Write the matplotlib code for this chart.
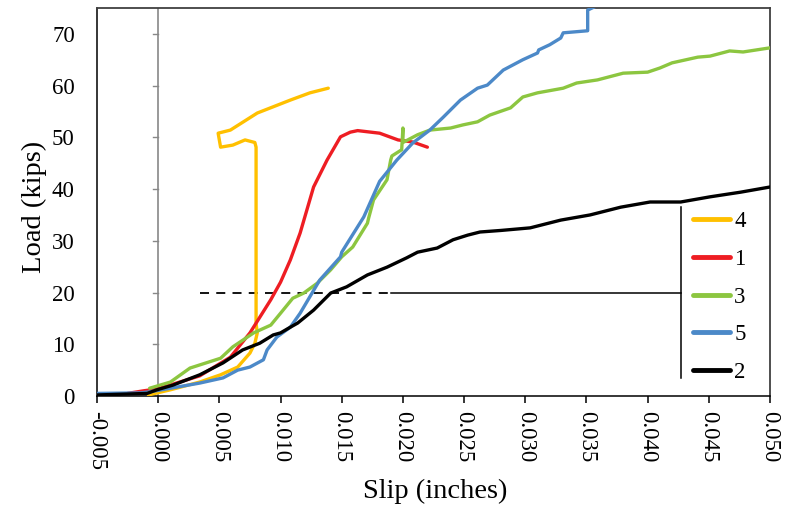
import matplotlib.pyplot as plt

plt.rcParams['font.family'] = ['Liberation Serif', 'DejaVu Serif']

# slip (in) / load (kips)
slip_4 = [-0.0008, 0.0010, 0.0034, 0.0051, 0.0065, 0.0075, 0.0079, 0.0081, 0.0080, 0.0080,
          0.0079, 0.0071, 0.0061, 0.0051, 0.0049, 0.0059, 0.0081, 0.0108, 0.0124, 0.0139]
load_4 = [0.2, 1.2, 2.7, 4.1, 5.6, 8.3, 10.2, 12.2, 14.0, 48.1,
          49.0, 49.5, 48.5, 48.1, 50.8, 51.4, 54.7, 57.2, 58.6, 59.5]

slip_1 = [-0.0025, -0.0012, 0.0, 0.0034, 0.0059, 0.0075, 0.0092, 0.0100, 0.0108, 0.0116,
          0.0127, 0.0138, 0.0149, 0.0157, 0.0163, 0.0181, 0.0196, 0.0208, 0.0220]
load_1 = [0.5, 1.0, 1.4, 3.9, 7.5, 12.2, 18.6, 22.0, 26.3, 31.5,
          40.4, 45.6, 50.1, 51.0, 51.3, 50.8, 49.5, 49.1, 48.1]

slip_3 = [-0.0007, 0.0010, 0.0026, 0.0051, 0.0061, 0.0078, 0.0092, 0.0100, 0.0110, 0.0119,
          0.0130, 0.0141, 0.0150, 0.0159, 0.0171, 0.0172, 0.0176, 0.0187, 0.0190, 0.0191,
          0.0199, 0.0200, 0.0200, 0.0212, 0.0222, 0.0239, 0.0249, 0.0261, 0.0271, 0.0288,
          0.0298, 0.0310, 0.0331, 0.0342, 0.0359, 0.0380, 0.0400, 0.0410, 0.0420, 0.0441,
          0.0451, 0.0467, 0.0478, 0.0500]
load_3 = [1.5, 2.7, 5.4, 7.3, 9.5, 12.2, 13.7, 16.0, 18.9, 19.9,
          21.8, 24.4, 26.9, 28.8, 33.4, 34.4, 37.9, 41.8, 45.6, 46.4,
          47.6, 51.8, 49.0, 50.5, 51.4, 51.8, 52.4, 53.0, 54.3, 55.7,
          57.8, 58.6, 59.5, 60.5, 61.1, 62.4, 62.6, 63.4, 64.4, 65.5,
          65.7, 66.7, 66.5, 67.3]

slip_5 = [-0.0050, -0.0015, -0.0007, 0.0010, 0.0034, 0.0053, 0.0065, 0.0075, 0.0086, 0.0089,
          0.0097, 0.0108, 0.0116, 0.0132, 0.0149, 0.0150, 0.0168, 0.0181, 0.0195, 0.0208,
          0.0222, 0.0233, 0.0247, 0.0261, 0.0269, 0.0282, 0.0298, 0.0310, 0.0311, 0.0320,
          0.0329, 0.0331, 0.0351, 0.0351, 0.0359]
load_5 = [0.5, 0.6, 0.8, 1.5, 2.5, 3.5, 5.0, 5.6, 7.0, 8.9,
          11.4, 13.3, 16.0, 22.4, 26.9, 27.8, 34.6, 41.5, 45.6, 48.9,
          51.4, 53.9, 57.2, 59.5, 60.1, 63.0, 65.0, 66.3, 66.9, 67.9,
          69.2, 70.2, 70.6, 74.6, 75.5]

slip_2 = [-0.0050, -0.0009, -0.0001, 0.0012, 0.0034, 0.0053, 0.0069, 0.0083, 0.0094, 0.0100,
          0.0108, 0.0114, 0.0127, 0.0141, 0.0154, 0.0171, 0.0187, 0.0203, 0.0212, 0.0228,
          0.0241, 0.0253, 0.0263, 0.0280, 0.0304, 0.0329, 0.0353, 0.0378, 0.0402, 0.0427,
          0.0451, 0.0476, 0.0500]
load_2 = [0.2, 0.5, 1.2, 2.1, 4.1, 6.4, 8.9, 10.2, 11.8, 12.2,
          13.3, 14.1, 16.6, 19.9, 21.1, 23.4, 24.9, 26.7, 27.8, 28.6,
          30.2, 31.1, 31.7, 32.0, 32.5, 34.0, 35.0, 36.5, 37.5, 37.5,
          38.5, 39.4, 40.4]

# reference lines drawn on the chart
dash_x = [0.0034, 0.0190]
solid_x = [0.0190, 0.0427]
ref_load = 20
bracket_x = 0.0427
bracket_y = [3.5, 36.5]

series = [('4', slip_4, load_4, '#FFC000'),
          ('1', slip_1, load_1, '#EE1D23'),
          ('3', slip_3, load_3, '#8CC640'),
          ('5', slip_5, load_5, '#4C89C8'),
          ('2', slip_2, load_2, '#000000')]

fig = plt.figure(figsize=(7.93, 5.09), dpi=100)
ax = fig.add_axes([97/793, 1-396/509, 673/793, 388/509])

ax.axvline(0, color='#888888', lw=1.2, zorder=1)
for yt in range(0, 80, 10):
    ax.plot([-0.0004, 0], [yt, yt], color='#888888', lw=1.0, zorder=1)

for name, x, y, c in series:
    ax.plot(x, y, color=c, lw=2.4, label=name, solid_capstyle='round', zorder=3)

ax.plot(dash_x, [ref_load, ref_load], color='black', lw=1.3, ls=(0, (5, 4)), zorder=2)
ax.plot(solid_x, [ref_load, ref_load], color='black', lw=1.1, zorder=2)
ax.plot([bracket_x, bracket_x], bracket_y, color='black', lw=1.1, zorder=2)

ax.set_xlim(-0.005, 0.050)
ax.set_ylim(0, 75)
ax.set_xticks([i * 0.005 for i in range(-1, 11)])
ax.set_xticklabels(['%.3f' % (i * 0.005) for i in range(-1, 11)], rotation=270)
ax.set_yticks(range(0, 80, 10))

ax.tick_params(axis='x', direction='out', length=5, width=1.1, pad=6, labelsize=16.5)
ax.tick_params(axis='y', length=0, pad=16, labelsize=16.5)

for s in ['left', 'bottom']:
    ax.spines[s].set_color('black')
    ax.spines[s].set_linewidth(1.1)
for s in ['top', 'right']:
    ax.spines[s].set_color('#404040')
    ax.spines[s].set_linewidth(1.3)

ax.set_xlabel('Slip (inches)', fontsize=20.5)
ax.set_ylabel('Load (kips)', fontsize=20.5)
ax.xaxis.set_label_coords(0.502, -0.213)
ax.yaxis.set_label_coords(-0.074, 0.487)

leg = ax.legend(loc='center left', bbox_to_anchor=(693/793, 1-297/509),
                bbox_transform=fig.transFigure, frameon=False, fontsize=16.5,
                handlelength=1.6, handletextpad=0.2, labelspacing=0.72,
                borderpad=0, borderaxespad=0)
for h in leg.get_lines():
    h.set_linewidth(3.5)

fig.savefig('out.png', dpi=100)
